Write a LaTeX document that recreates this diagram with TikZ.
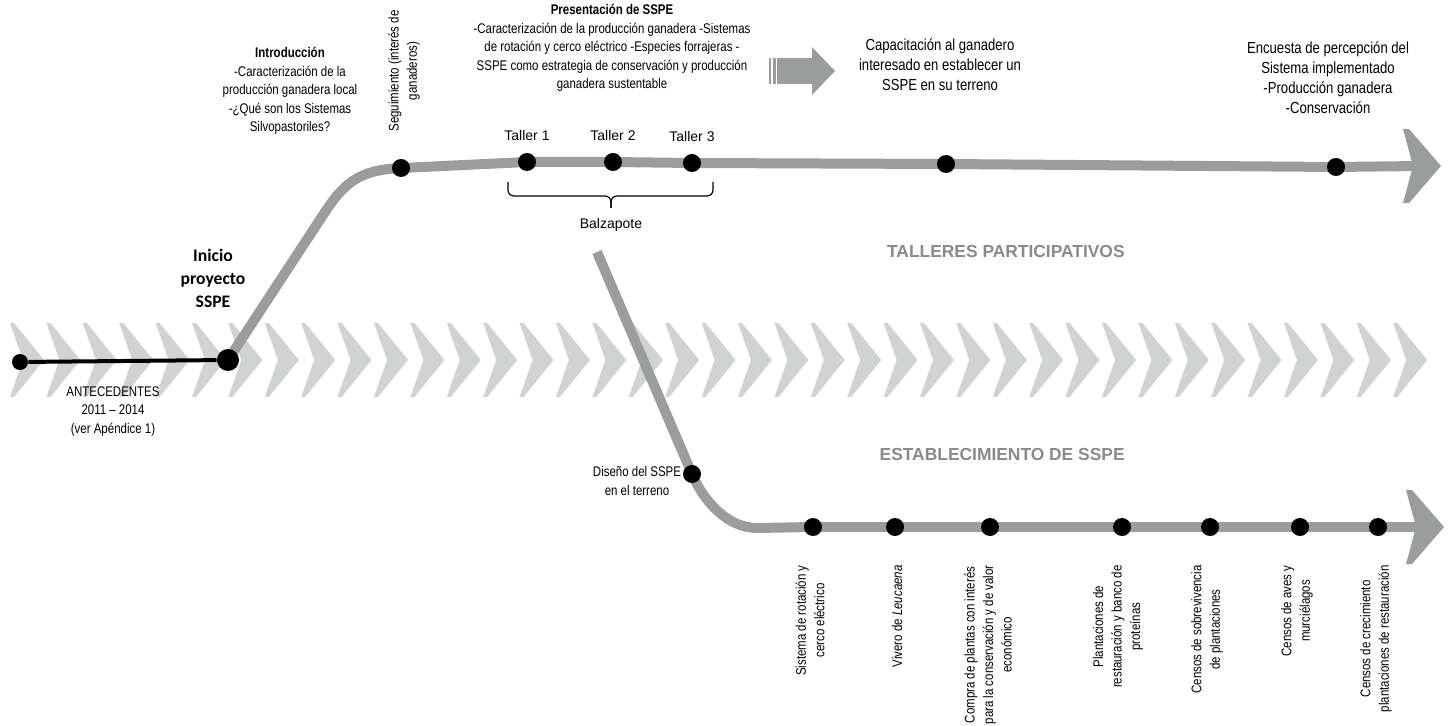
\documentclass[tikz,border=0pt]{standalone}
\usepackage{fontspec}
\setmainfont{Liberation Sans}
\newfontfamily\narrowfont{Liberation Sans}[FakeStretch=0.82]
\newfontfamily\calibfont{Carlito}
\usetikzlibrary{positioning,backgrounds}

\definecolor{trackgray}{RGB}{155,157,157}
\definecolor{chevgray}{RGB}{209,210,210}
\definecolor{titlegray}{RGB}{138,138,138}

\begin{document}
\begin{tikzpicture}[x=0.5pt,y=-0.5pt,
	dot/.style={circle,fill=black,inner sep=0pt,minimum size=9pt},
	track/.style={draw=trackgray,line width=5pt},
	head/.style={fill=trackgray},
	chevron/.style={fill=chevgray},
	small/.style={font=\narrowfont\fontsize{7}{9.2}\selectfont,align=center,inner sep=0pt},
	large/.style={font=\narrowfont\fontsize{8}{10}\selectfont,align=center,inner sep=0pt},
	plain/.style={font=\fontsize{7}{9}\selectfont,inner sep=0pt},
	vlabel/.style={small,rotate=90,anchor=east},
	phase/.style={font=\bfseries\fontsize{8.7}{10}\selectfont,text=titlegray,inner sep=0pt,anchor=east}]
	\useasboundingbox (0,0) rectangle (1449,726);

	% points on the two tracks
	\node[dot,minimum size=8pt] (start) at (20,362) {};
	\node[dot,minimum size=11pt] (inicio) at (228,360) {};
	\node[dot] (seg) at (401,168) {};
	\node[dot] (t1) at (527,162) {};
	\node[dot] (t2) at (613,162) {};
	\node[dot] (t3) at (692,163) {};
	\node[dot] (cap) at (946,164) {};
	\node[dot] (enc) at (1336,167) {};
	\coordinate (toptip) at (1420,166);
	\coordinate (bstart) at (597,252);
	\node[dot] (dis) at (692,474) {};
	\node[dot] (b1) at (813,527) {};
	\node[dot] (b2) at (895,527) {};
	\node[dot] (b3) at (990,527) {};
	\node[dot] (b4) at (1122,527) {};
	\node[dot] (b5) at (1210,527) {};
	\node[dot] (b6) at (1300,527) {};
	\node[dot] (b7) at (1378,527) {};
	\coordinate (bottip) at (1420,527);

	\begin{scope}[on background layer]
		\foreach \k in {0,...,38}
			\fill[chevron] ({10+36.4*\k},323) -- ++(4,0) -- ++(30,37) -- ++(-30,37) -- ++(-4,0) -- ++(13,-37) -- cycle;
		\draw[line width=2pt] (start) -- (inicio);
		\draw[track] (inicio.center) -- (325,212) .. controls (346,180) and (362,170) .. (seg.center)
			-- (t1.center) -- (t2.center) -- (t3.center) -- (cap.center) -- (enc.center) -- (toptip);
		\fill[head] (1403,129) -- ++(6,0) -- ++(32,37) -- ++(-32,37) -- ++(-6,0) -- ++(10,-37) -- cycle;
		\draw[track] (bstart) -- (dis.center) .. controls (704,502) and (728,528) .. (757,528)
			-- (b1.center) -- (b2.center) -- (b3.center) -- (b4.center) -- (b5.center) -- (b6.center) -- (b7.center) -- (bottip);
		\fill[head] (1406,490) -- ++(6,0) -- ++(32,37) -- ++(-32,37) -- ++(-6,0) -- ++(10,-37) -- cycle;
	\end{scope}

	% block arrow
	\fill[head] (777,58) -- (812,58) -- (812,47) -- (835,71) -- (812,95) -- (812,84) -- (777,84) -- cycle;
	\fill[head] (769,58) rectangle (771,84);
	\fill[head] (773,58) rectangle (775.5,84);

	% brace under the workshops
	\draw[line width=0.6pt,rounded corners=3pt] (508,182) -- (508,196) -- (611,196) -- (611,208);
	\draw[line width=0.6pt,rounded corners=3pt] (713,182) -- (713,196) -- (611,196) -- (611,208);

	% labels
	\node[font=\calibfont\bfseries\fontsize{8.8}{11.5}\selectfont,align=center,inner sep=0pt] (iniciolbl) at (213,278) {Inicio\\proyecto\\SSPE};
	\node[small,text depth=0pt] (antec) at (113,410) {ANTECEDENTES\\2011 – 2014\\(ver Apéndice 1)};
	\node[small] (intro) at (290,91) {\textbf{Introducción}\\-Caracterización de la\\producción ganadera local\\-¿Qué son los Sistemas\\Silvopastoriles?};
	\node[small,rotate=90] (seglbl) at (404,71) {Seguimiento (interés de\\ganaderos)};
	\node[small] (pres) at (612,48) {\textbf{Presentación de SSPE}\\-Caracterización de la producción ganadera -Sistemas\\de rotación y cerco eléctrico -Especies forrajeras -\\SSPE como estrategia de conservación y producción\\ganadera sustentable};
	\node[large] (caplbl) at (940,65) {Capacitación al ganadero\\interesado en establecer un\\SSPE en su terreno};
	\node[large] (enclbl) at (1328,78) {Encuesta de percepción del\\Sistema implementado\\-Producción ganadera\\-Conservación};
	\node[plain,above=6pt of t1] (t1lbl) {Taller 1};
	\node[plain,above=6pt of t2] (t2lbl) {Taller 2};
	\node[plain,above=6pt of t3] (t3lbl) {Taller 3};
	\node[plain] (balz) at (611,225) {Balzapote};
	\node[phase] (talleres) at (1125,252) {TALLERES PARTICIPATIVOS};
	\node[phase] (establ) at (1125,455) {ESTABLECIMIENTO DE SSPE};
	\node[small] (dislbl) at (637,481) {Diseño del SSPE\\en el terreno};

	\node[vlabel] (l1) at (810,565) {Sistema de rotación y\\cerco eléctrico};
	\node[vlabel] (l2) at (897,565) {Vivero de \textit{Leucaena}};
	\node[vlabel] (l3) at (988,565) {Compra de plantas con interés\\para la conservación y de valor\\económico};
	\node[vlabel] (l4) at (1118,565) {Plantaciones de\\restauración y banco de\\proteínas};
	\node[vlabel] (l5) at (1207,565) {Censos de sobrevivencia\\de plantaciones};
	\node[vlabel] (l6) at (1297,565) {Censos de aves y\\murciélagos};
	\node[vlabel] (l7) at (1376,565) {Censos de crecimiento\\plantaciones de restauración};
\end{tikzpicture}
\end{document}
